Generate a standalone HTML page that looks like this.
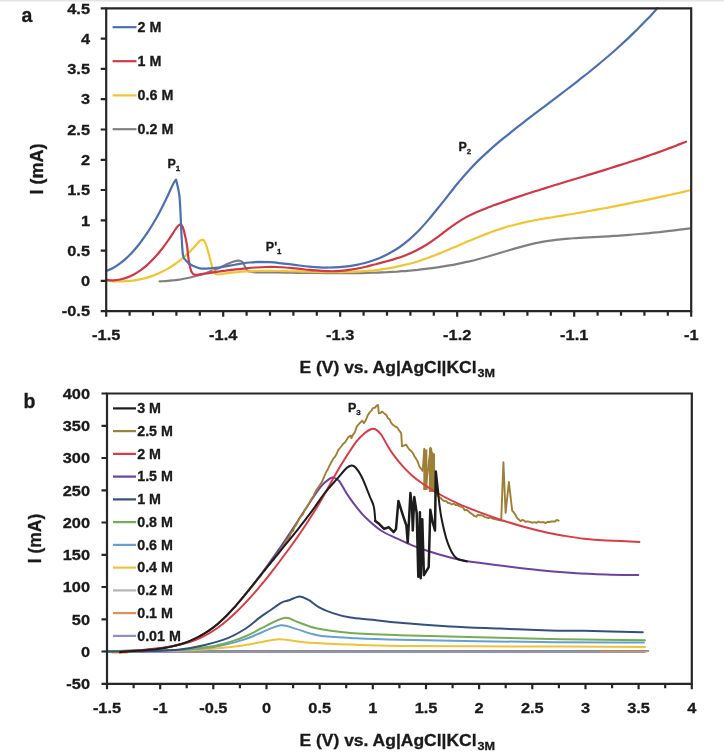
<!DOCTYPE html>
<html><head><meta charset="utf-8"><style>
html,body{margin:0;padding:0;background:#fff;width:724px;height:754px;overflow:hidden}
svg{display:block;will-change:transform}
text{font-family:"Liberation Sans",sans-serif;font-weight:bold;fill:#1a1a1a;stroke:#1a1a1a;stroke-width:0.3px}
.tl{font-size:15.3px;stroke:#1a1a1a;stroke-width:0.3px}
.lg{font-size:14.3px}
.ti{font-size:16px}
.pl{font-size:19.5px}
.an{font-size:12.5px}
.sb{font-size:8px}
.sb2{font-size:11.5px}
</style></head><body>
<svg width="724" height="754" viewBox="0 0 724 754">
<rect x="0" y="0" width="724" height="1.5" fill="#e4e4e4"/>
<text x="21.5" y="21.8" class="pl">a</text>
<text x="23.5" y="408.3" class="pl">b</text>
<text transform="translate(43,194.5) rotate(-90)" class="ti" style="font-size:17.5px" textLength="51" lengthAdjust="spacingAndGlyphs">I (mA)</text>
<text transform="translate(41.2,563.3) rotate(-90)" class="ti" style="font-size:17.5px" textLength="49.5" lengthAdjust="spacingAndGlyphs">I (mA)</text>
<text x="299.5" y="372.5" class="ti" textLength="177" lengthAdjust="spacingAndGlyphs">E (V) vs. Ag|AgCl|KCl</text><text x="477.5" y="376.5" class="sb2" textLength="17.5" lengthAdjust="spacingAndGlyphs">3M</text>
<text x="299.5" y="746" class="ti" textLength="177" lengthAdjust="spacingAndGlyphs">E (V) vs. Ag|AgCl|KCl</text><text x="477.5" y="750" class="sb2" textLength="17.5" lengthAdjust="spacingAndGlyphs">3M</text>
<text x="167.5" y="168.2" class="an">P<tspan class="sb" dy="3">1</tspan></text>
<text x="265.8" y="251.2" class="an">P'<tspan class="sb" dy="3">1</tspan></text>
<text x="458.5" y="151.2" class="an">P<tspan class="sb" dy="3">2</tspan></text>
<text x="348" y="412" class="an">P<tspan class="sb" dy="3">3</tspan></text>
<path d="M159.7 281.4C161.0 281.3 164.8 281.1 167.4 280.9C169.9 280.7 172.5 280.5 175.0 280.2C177.6 279.8 180.1 279.5 182.7 279.0C185.3 278.6 187.8 278.1 190.4 277.5C192.9 276.9 195.5 276.2 198.0 275.5C200.6 274.8 203.1 274.0 205.7 273.2C208.3 272.3 210.8 271.4 213.4 270.4C215.9 269.3 218.5 268.3 221.0 267.1C223.6 265.9 225.8 264.4 228.7 263.4C231.6 262.3 236.0 260.9 238.3 260.7C240.6 260.5 241.3 261.1 242.5 262.1C243.7 263.2 244.3 265.5 245.2 267.0C246.1 268.5 246.2 270.2 248.0 271.1C249.8 272.0 253.2 272.2 256.3 272.4C259.4 272.7 263.0 272.4 266.4 272.4C269.7 272.5 273.1 272.5 276.4 272.5C279.8 272.6 283.2 272.6 286.5 272.6C289.9 272.7 293.2 272.7 296.6 272.8C300.0 272.8 303.3 272.9 306.7 272.9C310.0 273.0 313.4 273.0 316.7 273.0C320.1 273.1 323.5 273.1 326.8 273.1C330.2 273.2 333.5 273.2 336.9 273.2C340.3 273.2 343.6 273.2 347.0 273.2C350.3 273.2 353.7 273.2 357.0 273.1C360.4 273.1 363.8 273.0 367.1 272.9C370.5 272.8 373.8 272.7 377.2 272.6C380.6 272.5 383.9 272.3 387.3 272.2C390.6 272.0 394.0 271.8 397.3 271.6C400.7 271.3 404.1 271.1 407.4 270.8C410.8 270.5 414.1 270.2 417.5 269.9C420.8 269.5 424.2 269.1 427.6 268.7C430.9 268.3 434.3 267.8 437.6 267.3C441.0 266.8 444.4 266.3 447.7 265.7C451.1 265.1 454.4 264.5 457.8 263.8C461.1 263.1 464.5 262.4 467.9 261.7C471.2 260.9 474.6 260.1 477.9 259.2C481.3 258.3 484.7 257.4 488.0 256.5C491.4 255.5 494.7 254.5 498.1 253.5C501.4 252.5 504.8 251.5 508.2 250.5C511.5 249.5 514.9 248.5 518.2 247.6C521.6 246.7 525.0 245.8 528.3 244.9C531.7 244.1 535.0 243.3 538.4 242.7C541.7 242.0 545.1 241.4 548.5 240.9C551.8 240.4 555.2 240.0 558.5 239.6C561.9 239.2 565.2 238.9 568.6 238.6C572.0 238.4 575.3 238.1 578.7 237.9C582.0 237.7 585.4 237.6 588.8 237.4C592.1 237.2 595.5 237.0 598.8 236.8C602.2 236.7 605.5 236.5 608.9 236.3C612.3 236.1 615.6 235.8 619.0 235.6C622.3 235.4 625.7 235.1 629.1 234.8C632.4 234.6 635.8 234.3 639.1 234.0C642.5 233.7 645.8 233.4 649.2 233.1C652.6 232.7 655.9 232.4 659.3 232.1C662.6 231.7 666.0 231.3 669.4 230.9C672.7 230.6 676.1 230.1 679.4 229.7C682.8 229.3 687.8 228.6 689.5 228.4" fill="none" stroke="#808080" stroke-width="2.2" stroke-linejoin="round" stroke-linecap="round"/>
<path d="M106.4 280.9C107.7 281.0 111.6 281.3 114.2 281.3C116.8 281.4 119.4 281.4 122.0 281.3C124.6 281.3 127.2 281.1 129.8 280.9C132.4 280.6 135.0 280.3 137.6 279.8C140.2 279.3 142.8 278.8 145.4 278.1C148.0 277.4 150.6 276.6 153.2 275.6C155.8 274.6 158.4 273.6 161.0 272.3C163.6 271.1 166.2 269.7 168.8 268.1C171.4 266.6 174.0 264.9 176.6 263.0C179.2 261.0 181.8 259.0 184.4 256.7C187.0 254.4 189.6 252.0 192.2 249.3C194.8 246.7 198.1 242.3 200.0 240.7C201.9 239.2 203.0 240.0 203.6 239.9C204.1 240.9 205.6 243.3 206.5 246.0C207.4 248.7 208.4 252.6 209.3 256.0C210.2 259.4 211.3 263.8 212.1 266.5C212.9 269.2 213.3 271.2 214.2 272.5C215.1 273.8 215.4 274.4 217.6 274.5C219.8 274.6 224.3 273.5 227.6 273.1C231.0 272.7 234.3 272.3 237.7 272.1C241.0 271.8 244.4 271.6 247.7 271.4C251.1 271.2 254.4 271.1 257.8 271.0C261.1 270.9 264.5 270.9 267.8 270.9C271.1 270.9 274.5 270.9 277.8 271.0C281.2 271.0 284.5 271.1 287.9 271.2C291.2 271.2 294.6 271.3 297.9 271.4C301.3 271.5 304.6 271.6 308.0 271.7C311.3 271.8 314.7 271.9 318.0 272.0C321.4 272.0 324.7 272.1 328.0 272.1C331.4 272.2 334.7 272.2 338.1 272.2C341.4 272.1 344.8 272.1 348.1 272.0C351.5 271.9 354.8 271.8 358.2 271.6C361.5 271.4 364.9 271.2 368.2 270.9C371.6 270.6 374.9 270.2 378.2 269.8C381.6 269.4 384.9 268.9 388.3 268.3C391.6 267.8 395.0 267.1 398.3 266.4C401.7 265.7 405.0 264.9 408.4 264.0C411.7 263.2 415.1 262.2 418.4 261.2C421.8 260.1 425.1 258.9 428.4 257.7C431.8 256.5 435.1 255.2 438.5 253.9C441.8 252.5 445.2 251.1 448.5 249.7C451.9 248.3 455.2 246.8 458.6 245.4C461.9 244.0 465.3 242.5 468.6 241.1C472.0 239.7 475.3 238.3 478.7 237.0C482.0 235.7 485.3 234.3 488.7 233.1C492.0 231.8 495.4 230.6 498.7 229.5C502.1 228.4 505.4 227.3 508.8 226.3C512.1 225.4 515.5 224.5 518.8 223.7C522.2 222.9 525.5 222.1 528.9 221.4C532.2 220.8 535.5 220.1 538.9 219.5C542.2 218.9 545.6 218.4 548.9 217.8C552.3 217.3 555.6 216.7 559.0 216.2C562.3 215.6 565.7 215.1 569.0 214.5C572.4 214.0 575.7 213.4 579.1 212.8C582.4 212.2 585.7 211.6 589.1 211.0C592.4 210.4 595.8 209.8 599.1 209.2C602.5 208.6 605.8 207.9 609.2 207.3C612.5 206.7 615.9 206.0 619.2 205.4C622.6 204.7 625.9 204.1 629.3 203.4C632.6 202.7 636.0 202.0 639.3 201.4C642.6 200.7 646.0 200.0 649.3 199.3C652.7 198.6 656.0 197.9 659.4 197.1C662.7 196.4 666.1 195.7 669.4 195.0C672.8 194.2 676.1 193.5 679.5 192.7C682.8 192.0 687.8 190.8 689.5 190.5" fill="none" stroke="#f2c430" stroke-width="2.2" stroke-linejoin="round" stroke-linecap="round"/>
<path d="M106.4 279.9C107.5 279.9 111.0 280.3 113.3 280.3C115.5 280.2 117.8 280.0 120.1 279.5C122.4 279.1 124.7 278.5 127.0 277.6C129.3 276.8 131.6 275.7 133.8 274.5C136.1 273.3 138.4 271.8 140.7 270.2C143.0 268.5 145.3 266.7 147.6 264.6C149.8 262.6 152.1 260.3 154.4 257.8C156.7 255.4 159.0 252.7 161.3 249.8C163.6 246.9 165.9 243.8 168.1 240.5C170.4 237.2 173.4 232.4 175.0 230.0C176.6 227.6 177.1 226.9 178.0 226.0C178.9 225.1 179.6 224.2 180.3 224.3C181.1 224.4 181.7 224.7 182.5 226.5C183.3 228.3 184.2 231.8 184.9 234.9C185.6 238.0 186.2 240.5 186.9 244.9C187.6 249.3 188.1 257.0 188.9 261.5C189.7 266.0 190.5 269.7 191.6 271.9C192.7 274.1 193.2 274.6 195.5 274.9C197.8 275.1 202.2 274.0 205.5 273.5C208.8 273.0 212.2 272.6 215.5 272.1C218.9 271.6 222.2 271.1 225.5 270.7C228.9 270.2 232.2 269.8 235.5 269.4C238.9 269.0 242.2 268.6 245.6 268.3C248.9 268.0 252.2 267.7 255.6 267.5C258.9 267.3 262.2 267.1 265.6 267.0C268.9 266.9 272.2 266.9 275.6 267.0C278.9 267.1 282.3 267.2 285.6 267.5C288.9 267.7 292.3 268.1 295.6 268.4C298.9 268.7 302.3 269.1 305.6 269.5C308.9 269.8 312.3 270.2 315.6 270.4C319.0 270.7 322.3 271.0 325.6 271.1C329.0 271.2 332.3 271.3 335.6 271.2C339.0 271.1 342.3 270.8 345.7 270.4C349.0 270.0 352.3 269.5 355.7 268.9C359.0 268.2 362.3 267.5 365.7 266.7C369.0 265.9 372.3 265.0 375.7 264.2C379.0 263.3 382.4 262.4 385.7 261.5C389.0 260.6 392.4 259.7 395.7 258.6C399.0 257.6 402.4 256.5 405.7 255.2C409.1 253.9 412.4 252.5 415.7 250.8C419.1 249.2 422.4 247.3 425.7 245.3C429.1 243.2 432.4 240.8 435.7 238.4C439.1 236.0 442.4 233.3 445.8 230.8C449.1 228.4 452.4 225.8 455.8 223.6C459.1 221.4 462.4 219.3 465.8 217.4C469.1 215.6 472.4 214.0 475.8 212.5C479.1 211.0 482.5 209.7 485.8 208.4C489.1 207.1 492.5 205.9 495.8 204.6C499.1 203.4 502.5 202.2 505.8 201.1C509.2 199.9 512.5 198.7 515.8 197.6C519.2 196.5 522.5 195.4 525.8 194.3C529.2 193.2 532.5 192.1 535.8 191.0C539.2 190.0 542.5 188.9 545.9 187.9C549.2 186.8 552.5 185.8 555.9 184.8C559.2 183.7 562.5 182.7 565.9 181.7C569.2 180.7 572.6 179.7 575.9 178.7C579.2 177.7 582.6 176.7 585.9 175.7C589.2 174.7 592.6 173.7 595.9 172.6C599.2 171.6 602.6 170.6 605.9 169.6C609.3 168.5 612.6 167.5 615.9 166.4C619.3 165.4 622.6 164.3 625.9 163.3C629.3 162.2 632.6 161.1 635.9 160.0C639.3 158.9 642.6 157.8 646.0 156.6C649.3 155.5 652.6 154.3 656.0 153.1C659.3 151.9 662.6 150.7 666.0 149.5C669.3 148.2 672.7 147.0 676.0 145.7C679.3 144.4 684.3 142.3 686.0 141.7" fill="none" stroke="#d23844" stroke-width="2.2" stroke-linejoin="round" stroke-linecap="round"/>
<path d="M106.4 271.0C107.5 270.5 110.8 269.1 113.1 267.9C115.3 266.7 117.5 265.3 119.7 263.6C121.9 262.0 124.2 260.2 126.4 258.1C128.6 256.1 130.8 253.9 133.0 251.4C135.3 249.0 137.5 246.3 139.7 243.5C141.9 240.6 144.1 237.5 146.4 234.2C148.6 230.9 150.8 227.4 153.0 223.7C155.2 220.0 157.5 216.1 159.7 211.9C161.9 207.7 164.1 203.3 166.3 198.7C168.6 194.1 171.4 187.4 173.0 184.2C174.6 181.0 175.6 180.4 176.1 179.6C176.6 182.2 178.6 189.1 179.3 195.0C180.1 200.9 180.2 208.3 180.6 215.0C181.0 221.7 181.1 228.4 181.5 235.0C181.9 241.6 182.3 250.4 182.9 254.5C183.5 258.6 184.1 258.1 185.0 259.5C185.9 260.9 187.0 261.8 188.2 262.8C189.4 263.8 190.4 264.6 192.4 265.5C194.4 266.4 197.1 267.8 200.0 268.3C202.9 268.8 206.6 268.5 209.9 268.3C213.3 268.2 216.6 267.7 219.9 267.3C223.2 266.8 226.5 266.2 229.8 265.6C233.2 265.1 236.5 264.4 239.8 263.9C243.1 263.4 246.4 262.8 249.7 262.5C253.1 262.2 256.4 262.0 259.7 261.9C263.0 261.9 266.3 262.0 269.6 262.2C273.0 262.4 276.3 262.7 279.6 263.1C282.9 263.4 286.2 263.8 289.5 264.2C292.8 264.6 296.2 265.1 299.5 265.5C302.8 265.9 306.1 266.3 309.4 266.6C312.7 266.9 316.1 267.2 319.4 267.3C322.7 267.5 326.0 267.6 329.3 267.5C332.6 267.5 336.0 267.4 339.3 267.1C342.6 266.9 345.9 266.6 349.2 266.1C352.5 265.6 355.8 265.0 359.2 264.3C362.5 263.5 365.8 262.7 369.1 261.7C372.4 260.7 375.7 259.5 379.1 258.2C382.4 256.8 385.7 255.3 389.0 253.5C392.3 251.7 395.6 249.8 399.0 247.5C402.3 245.2 405.6 242.7 408.9 239.9C412.2 237.0 415.5 233.9 418.9 230.5C422.2 227.0 425.5 223.2 428.8 219.4C432.1 215.5 435.4 211.3 438.7 207.2C442.1 203.1 445.4 198.8 448.7 194.6C452.0 190.5 455.3 186.2 458.6 182.3C462.0 178.3 465.3 174.4 468.6 170.8C471.9 167.1 475.2 163.7 478.5 160.4C481.9 157.1 485.2 154.1 488.5 151.1C491.8 148.1 495.1 145.2 498.4 142.4C501.8 139.6 505.1 137.0 508.4 134.3C511.7 131.6 515.0 129.0 518.3 126.4C521.6 123.8 525.0 121.3 528.3 118.7C531.6 116.2 534.9 113.7 538.2 111.2C541.5 108.7 544.9 106.2 548.2 103.6C551.5 101.1 554.8 98.6 558.1 96.1C561.4 93.6 564.8 91.1 568.1 88.5C571.4 86.0 574.7 83.4 578.0 80.8C581.3 78.3 584.6 75.6 588.0 73.0C591.3 70.3 594.6 67.6 597.9 64.9C601.2 62.1 604.5 59.3 607.9 56.5C611.2 53.6 614.5 50.7 617.8 47.7C621.1 44.7 624.4 41.7 627.8 38.6C631.1 35.4 634.4 32.2 637.7 29.0C641.0 25.7 644.3 22.3 647.7 18.8C651.0 15.3 655.9 9.9 657.6 8.1" fill="none" stroke="#4a6fb2" stroke-width="2.2" stroke-linejoin="round" stroke-linecap="round"/>
<path d="M107.0 652.1L645.0 652.1" fill="none" stroke="#8a90d0" stroke-width="1.6" stroke-linejoin="round" stroke-linecap="round"/>
<path d="M112.0 652.3L127.0 652.3" fill="none" stroke="#e39050" stroke-width="2.4" stroke-linejoin="round" stroke-linecap="round"/>
<path d="M107.0 650.9L648.3 650.9" fill="none" stroke="#8c8c8c" stroke-width="1.8" stroke-linejoin="round" stroke-linecap="round"/>
<path d="M600.0 651.6L648.3 651.6" fill="none" stroke="#e39050" stroke-width="1.2" stroke-linejoin="round" stroke-linecap="round"/>
<path d="M107.0 651.6C108.5 651.6 113.1 651.5 116.1 651.4C119.2 651.4 122.2 651.3 125.2 651.3C128.3 651.3 131.3 651.2 134.4 651.2C137.4 651.2 140.5 651.2 143.5 651.1C146.5 651.1 149.6 651.1 152.6 651.0C155.7 651.0 158.7 651.0 161.7 650.9C164.8 650.9 167.8 650.8 170.9 650.8C173.9 650.7 176.9 650.6 180.0 650.5C183.0 650.4 186.1 650.3 189.1 650.2C192.2 650.1 195.2 649.9 198.2 649.8C201.3 649.6 204.3 649.4 207.4 649.2C210.4 649.0 213.4 648.8 216.5 648.5C219.5 648.2 222.6 647.9 225.6 647.6C228.6 647.3 231.7 646.9 234.7 646.5C237.8 646.2 240.8 645.7 243.9 645.3C246.9 644.8 249.9 644.3 253.0 643.8C256.0 643.2 257.6 642.8 262.1 642.0C266.6 641.3 272.4 639.1 279.8 639.2C287.2 639.3 294.5 641.6 306.3 642.5C318.1 643.4 334.9 643.9 350.5 644.5C366.1 645.1 368.4 645.6 400.0 645.9C431.6 646.2 499.2 646.3 540.0 646.5C580.8 646.7 627.5 646.9 645.0 647.0" fill="none" stroke="#f0c23a" stroke-width="2.0" stroke-linejoin="round" stroke-linecap="round"/>
<path d="M107.0 651.6C108.5 651.5 113.1 651.2 116.1 651.1C119.2 651.0 122.2 650.9 125.2 650.8C128.3 650.7 131.3 650.6 134.4 650.6C137.4 650.6 140.5 650.5 143.5 650.5C146.5 650.5 149.6 650.5 152.6 650.5C155.7 650.5 158.7 650.5 161.7 650.4C164.8 650.4 167.8 650.3 170.9 650.3C173.9 650.2 176.9 650.1 180.0 650.0C183.0 649.9 186.1 649.7 189.1 649.5C192.2 649.3 195.2 649.1 198.2 648.8C201.3 648.5 204.3 648.2 207.4 647.8C210.4 647.4 213.4 647.0 216.5 646.4C219.5 645.9 222.6 645.3 225.6 644.6C228.6 644.0 231.7 643.2 234.7 642.4C237.8 641.5 240.8 640.6 243.9 639.6C246.9 638.6 249.9 637.4 253.0 636.2C256.0 635.0 257.4 634.0 262.1 632.2C266.8 630.4 275.4 625.9 280.9 625.3C286.4 624.7 289.1 627.0 295.2 628.6C301.3 630.2 308.1 633.7 317.3 635.2C326.5 636.8 336.7 637.1 350.5 637.9C364.3 638.6 368.4 639.0 400.0 639.7C431.6 640.4 499.4 641.6 540.0 642.1C580.6 642.6 626.6 642.4 643.9 642.5" fill="none" stroke="#64a0d2" stroke-width="2.0" stroke-linejoin="round" stroke-linecap="round"/>
<path d="M107.0 651.6C108.5 651.5 113.1 651.2 116.1 651.1C119.2 650.9 122.2 650.8 125.2 650.7C128.3 650.6 131.3 650.6 134.4 650.5C137.4 650.5 140.5 650.5 143.5 650.4C146.5 650.4 149.6 650.4 152.6 650.4C155.7 650.4 158.7 650.4 161.7 650.3C164.8 650.3 167.8 650.2 170.9 650.1C173.9 650.0 176.9 649.9 180.0 649.8C183.0 649.6 186.1 649.4 189.1 649.2C192.2 648.9 195.2 648.7 198.2 648.3C201.3 647.9 204.3 647.5 207.4 647.0C210.4 646.5 213.4 646.0 216.5 645.4C219.5 644.7 222.6 644.0 225.6 643.2C228.6 642.3 231.7 641.4 234.7 640.4C237.8 639.4 240.8 638.3 243.9 637.0C246.9 635.7 249.9 634.4 253.0 632.8C256.0 631.3 256.9 630.3 262.1 627.8C267.3 625.3 278.3 619.0 284.2 618.0C290.1 617.0 292.0 620.2 297.5 622.0C303.0 623.8 308.5 626.8 317.3 628.6C326.1 630.4 336.7 631.9 350.5 633.0C364.3 634.1 368.4 634.2 400.0 635.2C431.6 636.2 499.2 637.9 540.0 638.8C580.8 639.6 627.5 640.0 645.0 640.3" fill="none" stroke="#76ad52" stroke-width="2.0" stroke-linejoin="round" stroke-linecap="round"/>
<path d="M107.0 651.6C114.2 651.5 137.8 651.4 150.0 651.0C162.2 650.6 171.0 650.4 180.0 649.4C189.0 648.4 195.9 647.1 203.9 645.2C211.9 643.3 220.8 640.9 227.8 638.1C234.8 635.3 240.3 632.0 245.7 628.5C251.1 625.0 255.9 620.4 260.0 617.4C264.1 614.4 266.4 613.0 270.0 610.5C273.6 608.0 278.3 604.3 281.5 602.6C284.7 600.9 286.0 601.3 289.0 600.3C292.0 599.3 296.2 596.5 299.5 596.4C302.8 596.3 305.1 598.0 308.5 599.9C311.9 601.8 315.6 605.4 319.6 607.6C323.7 609.8 327.7 611.4 332.8 613.1C337.9 614.8 343.9 616.5 350.5 617.6C357.1 618.7 364.4 618.9 372.6 619.8C380.9 620.7 387.1 621.7 400.0 622.8C412.9 623.9 433.3 625.4 450.0 626.4C466.7 627.4 483.3 627.9 500.0 628.6C516.7 629.3 536.0 630.0 550.0 630.4C564.0 630.8 568.7 630.5 584.2 630.8C599.7 631.1 633.0 632.0 642.8 632.2" fill="none" stroke="#34507e" stroke-width="2.0" stroke-linejoin="round" stroke-linecap="round"/>
<path d="M120.0 652.1C121.5 651.9 125.9 651.5 128.8 651.3C131.8 651.0 134.7 650.8 137.7 650.6C140.6 650.4 143.6 650.2 146.5 650.0C149.5 649.7 152.4 649.5 155.4 649.1C158.3 648.8 161.3 648.4 164.2 647.9C167.2 647.4 170.1 646.9 173.1 646.2C176.0 645.5 179.0 644.8 181.9 643.8C184.8 642.9 187.8 641.9 190.7 640.6C193.7 639.4 196.6 638.0 199.6 636.4C202.5 634.8 205.5 633.0 208.4 631.0C211.4 628.9 214.3 626.7 217.3 624.2C220.2 621.7 223.2 618.9 226.1 616.0C229.1 613.0 232.0 609.9 235.0 606.6C237.9 603.3 240.9 599.8 243.8 596.2C246.7 592.6 249.7 588.9 252.6 585.1C255.6 581.4 258.5 577.5 261.5 573.5C264.4 569.6 267.4 565.6 270.3 561.5C273.3 557.4 276.2 553.2 279.2 548.9C282.1 544.7 285.1 540.4 288.0 536.0C291.0 531.6 293.9 527.1 296.9 522.5C299.8 518.0 301.7 514.6 305.7 508.7C309.7 502.7 316.6 491.9 320.6 486.9C324.6 481.9 327.7 480.2 329.9 478.6C332.1 477.1 332.1 477.2 333.6 477.6C335.2 478.0 337.0 478.4 339.2 481.0C341.4 483.6 343.8 489.2 346.6 493.4C349.4 497.6 352.8 502.5 355.9 506.4C359.0 510.3 360.8 513.0 365.0 517.0C369.2 521.0 375.6 526.9 380.9 530.5C386.2 534.1 391.5 535.9 396.8 538.4C402.1 540.9 407.5 543.5 412.8 545.6C418.1 547.7 423.4 549.5 428.7 551.2C434.0 552.9 439.3 554.5 444.6 556.0C449.9 557.5 455.4 558.9 460.5 559.9C465.6 560.9 461.8 560.6 475.0 562.3C488.2 564.0 523.6 568.5 540.0 570.3C556.4 572.1 562.1 572.2 573.1 572.9C584.1 573.6 595.4 574.1 606.3 574.5C617.2 574.9 633.0 575.0 638.3 575.1" fill="none" stroke="#6c42a0" stroke-width="2.0" stroke-linejoin="round" stroke-linecap="round"/>
<path d="M120.0 652.3L128.8 651.2L137.6 650.4L146.5 649.7L155.3 648.9L164.1 647.8L172.9 646.2L181.7 644.0L190.6 640.9L199.4 636.7L208.2 631.4L217.0 624.6L225.8 616.4L234.7 607.0L243.5 596.8L245.2 594.3L247.0 591.8L248.8 590.7L250.5 587.4L252.3 586.2L254.1 584.1L255.8 581.6L257.6 578.7L259.4 577.5L261.1 575.4L262.9 572.1L264.6 570.7L266.4 567.7L268.2 565.5L269.9 564.1L271.7 561.6L273.5 560.0L275.2 556.1L277.0 553.9L278.8 552.1L280.5 549.8L282.3 547.9L284.1 544.5L285.8 541.4L287.6 539.1L289.3 537.2L291.1 532.3L292.9 531.1L294.6 527.0L296.4 524.6L298.1 521.0L299.7 518.1L301.4 515.8L303.0 514.1L304.7 509.9L306.3 508.0L308.0 505.0L309.8 502.3L311.6 498.8L313.4 496.2L315.2 492.2L317.0 489.2L318.8 486.5L320.6 484.2L322.5 480.7L324.4 476.2L326.2 472.0L328.1 468.7L330.0 464.6L331.6 461.7L333.3 458.6L334.9 456.9L336.6 454.0L338.2 450.2L339.9 448.0L341.6 446.0L343.2 443.8L344.9 442.4L346.5 439.9L348.2 437.3L350.7 435.6L351.5 438.1L353.1 434.3L354.8 432.5L356.5 427.3L358.1 424.8L360.2 422.6L362.3 420.7L363.9 423.2L365.8 420.2L367.8 415.2L369.7 412.4L371.4 410.7L373.0 408.1L374.7 407.8L376.4 405.8L378.0 404.9L378.8 413.2L380.5 413.0L382.2 411.6L384.2 413.4L386.3 414.9L387.9 418.2L389.6 419.4L391.2 422.8L392.9 424.8L395.0 426.3L397.1 427.3L399.1 430.4L401.2 433.1L402.0 446.4L404.1 445.5L406.2 444.7L407.9 447.5L409.5 449.8L411.1 450.9L412.8 453.0L414.5 456.3L416.1 458.8L417.8 461.7L419.4 466.5L422.7 470.9L424.3 448.8L426.0 484.2L428.0 470.0L430.5 447.7L431.5 480.0L432.7 453.3L434.9 488.6L437.1 495.2L438.9 496.9L440.8 498.1L442.6 500.2L444.4 501.1L446.3 501.2L448.1 503.0L450.0 503.3L451.8 504.5L453.6 503.6L455.5 505.1L457.4 505.0L459.2 506.3L461.0 506.6L462.9 507.5L464.7 510.2L466.5 509.9L468.4 511.2L470.2 512.9L472.4 514.3L474.7 516.2L476.4 516.7L478.0 514.7L479.6 515.3L481.3 515.1L483.1 515.8L485.0 517.1L486.8 517.5L488.6 518.2L490.5 517.4L492.3 518.5L501.2 520.7L503.4 462.1L505.6 512.9L508.9 482.0L512.2 510.7L513.9 512.7L515.5 514.8L517.2 518.2L518.9 519.6L520.5 521.2L522.2 519.9L523.9 520.5L525.5 521.8L527.3 521.4L529.2 521.6L531.0 522.3L532.8 522.7L534.7 522.2L536.5 522.9L538.4 521.6L540.2 522.4L542.0 522.1L543.9 522.3L545.8 523.0L547.6 521.8L549.4 522.0L551.3 521.5L553.1 521.5L554.9 521.5L556.8 519.9L558.6 520.7" fill="none" stroke="#9e7f36" stroke-width="1.9" stroke-linejoin="round" stroke-linecap="round"/>
<path d="M423.2 490L423.6 449.5L427.3 449.5L427.6 490Z M428.8 492L429.2 448L432 448L432.8 453.5L435 453.5L435.2 492Z" fill="#9e7f36"/>
<path d="M120.0 652.4C121.5 652.2 125.9 651.6 128.9 651.3C131.8 650.9 134.8 650.7 137.8 650.4C140.7 650.1 143.7 649.8 146.7 649.5C149.6 649.3 152.6 649.0 155.6 648.6C158.5 648.3 161.5 648.0 164.4 647.5C167.4 647.1 170.4 646.6 173.3 646.1C176.3 645.5 179.2 644.9 182.2 644.1C185.2 643.3 188.1 642.5 191.1 641.5C194.1 640.5 197.0 639.3 200.0 638.0C203.0 636.7 205.9 635.2 208.9 633.5C211.8 631.7 214.8 629.8 217.8 627.7C220.7 625.6 223.7 623.2 226.7 620.7C229.6 618.3 232.6 615.6 235.5 612.8C238.5 610.0 241.5 607.0 244.4 603.9C247.4 600.8 250.4 597.5 253.3 594.2C256.3 590.8 259.2 587.3 262.2 583.7C265.2 580.1 268.1 576.4 271.1 572.6C274.0 568.9 277.0 565.0 280.0 561.0C282.9 557.1 285.9 553.1 288.9 549.0C291.8 545.0 294.8 540.8 297.8 536.6C300.7 532.3 303.7 528.0 306.6 523.5C309.6 519.0 312.6 514.4 315.5 509.6C318.5 504.8 321.5 499.8 324.4 494.6C327.4 489.4 329.9 484.2 333.3 478.3C336.7 472.3 341.0 464.9 344.9 458.8C348.8 452.7 353.2 445.7 356.5 441.4C359.8 437.1 362.3 435.2 364.8 433.1C367.3 431.0 369.5 429.6 371.4 429.0C373.3 428.4 374.8 428.8 376.4 429.8C378.0 430.8 379.4 432.0 381.3 434.8C383.2 437.6 385.8 442.8 388.0 446.4C390.2 450.0 392.1 453.0 394.6 456.3C397.1 459.6 399.9 463.0 402.9 466.3C405.9 469.6 409.5 473.3 412.8 476.2C416.1 479.1 418.8 480.9 422.8 483.7C426.9 486.5 431.0 489.6 437.1 493.0C443.2 496.4 451.8 500.8 459.2 504.1C466.6 507.4 473.9 510.1 481.3 512.9C488.7 515.7 496.0 518.3 503.4 520.7C510.8 523.1 518.1 525.3 525.5 527.3C532.9 529.3 541.5 531.4 547.6 532.8C553.7 534.1 556.0 534.4 562.1 535.4C568.2 536.4 576.8 537.9 584.2 538.7C591.6 539.5 597.1 539.9 606.3 540.4C615.5 540.9 633.9 541.7 639.4 542.0" fill="none" stroke="#dc3a44" stroke-width="2.0" stroke-linejoin="round" stroke-linecap="round"/>
<path d="M120.0 652.0C121.5 651.9 125.9 651.5 128.9 651.3C131.8 651.1 134.8 650.9 137.8 650.7C140.7 650.5 143.7 650.3 146.6 650.1C149.6 649.8 152.6 649.5 155.5 649.2C158.5 648.8 161.5 648.4 164.4 647.9C167.4 647.4 170.3 646.8 173.3 646.1C176.3 645.4 179.2 644.6 182.2 643.7C185.1 642.7 188.1 641.6 191.1 640.3C194.0 639.1 197.0 637.7 199.9 636.0C202.9 634.4 205.9 632.6 208.8 630.6C211.8 628.6 214.7 626.4 217.7 623.9C220.7 621.4 223.6 618.6 226.6 615.7C229.6 612.7 232.5 609.4 235.5 606.1C238.4 602.7 241.4 599.1 244.4 595.6C247.3 592.0 250.3 588.3 253.2 584.6C256.2 580.9 259.2 577.2 262.1 573.5C265.1 569.8 268.0 566.1 271.0 562.4C274.0 558.7 276.9 555.1 279.9 551.5C282.8 547.9 285.8 544.3 288.8 540.7C291.7 537.0 294.7 533.4 297.7 529.6C300.6 525.9 303.6 522.1 306.5 518.2C309.5 514.3 312.5 510.4 315.4 506.2C318.4 502.1 320.7 498.1 324.3 493.5C327.9 488.9 333.6 482.8 337.3 478.6C341.0 474.4 344.2 470.2 346.6 468.0C349.0 465.8 350.0 465.5 351.5 465.4C353.0 465.3 354.0 465.7 355.6 467.5C357.2 469.3 359.6 472.8 361.4 476.2C363.2 479.6 365.0 484.3 366.4 487.8C367.8 491.3 368.8 493.9 370.0 497.0C371.2 500.1 372.9 502.6 373.8 506.6C374.7 510.6 375.1 518.5 375.3 520.9" fill="none" stroke="#1c1c1c" stroke-width="2.0" stroke-linejoin="round" stroke-linecap="round"/>
<path d="M375.3 520.9L379.3 524.1L384.1 528.9L388.9 527.3L393.7 532.1L396.0 528.9L398.4 501.0L403.2 516.2L406.4 525.7L407.7 542.4L408.8 524.1L410.4 493.1L412.0 506.6L412.8 530.5L414.3 497.1L416.7 513.0L418.3 576.7L419.9 512.2L420.7 578.2L422.3 519.3L423.9 575.1L428.7 567.1L430.3 509.8L432.7 522.5L435.0 530.5L435.8 471.6L438.2 493.9" fill="none" stroke="#1c1c1c" stroke-width="2.5" stroke-linejoin="round" stroke-linecap="round"/>
<path d="M438.2 493.9C438.7 497.9 439.8 509.6 441.4 517.8C443.0 526.0 445.4 536.6 447.8 543.2C450.2 549.8 452.5 554.6 455.7 557.6C458.9 560.6 465.0 560.9 466.9 561.5" fill="none" stroke="#1c1c1c" stroke-width="2.0" stroke-linejoin="round" stroke-linecap="round"/>
<path d="M106.2 8.3H691.2V311.2H106.2Z" fill="none" stroke="#262626" stroke-width="2.2"/><path d="M100.7 8.3H106.2M100.7 38.6H106.2M100.7 68.9H106.2M100.7 99.2H106.2M100.7 129.5H106.2M100.7 159.8H106.2M100.7 190.0H106.2M100.7 220.3H106.2M100.7 250.6H106.2M100.7 280.9H106.2M100.7 311.2H106.2M106.2 311.2V316.7M223.2 311.2V316.7M340.2 311.2V316.7M457.2 311.2V316.7M574.2 311.2V316.7M691.2 311.2V316.7M129.6 311.2V315.7M153.0 311.2V315.7M176.4 311.2V315.7M199.8 311.2V315.7M246.6 311.2V315.7M270.0 311.2V315.7M293.4 311.2V315.7M316.8 311.2V315.7M363.6 311.2V315.7M387.0 311.2V315.7M410.4 311.2V315.7M433.8 311.2V315.7M480.6 311.2V315.7M504.0 311.2V315.7M527.4 311.2V315.7M550.8 311.2V315.7M597.6 311.2V315.7M621.0 311.2V315.7M644.4 311.2V315.7M667.8 311.2V315.7" fill="none" stroke="#262626" stroke-width="2.2"/><text transform="translate(90,13.5) scale(1.07,1)" text-anchor="end" class="tl">4.5</text><text transform="translate(90,43.8) scale(1.07,1)" text-anchor="end" class="tl">4</text><text transform="translate(90,74.1) scale(1.07,1)" text-anchor="end" class="tl">3.5</text><text transform="translate(90,104.4) scale(1.07,1)" text-anchor="end" class="tl">3</text><text transform="translate(90,134.7) scale(1.07,1)" text-anchor="end" class="tl">2.5</text><text transform="translate(90,164.9) scale(1.07,1)" text-anchor="end" class="tl">2</text><text transform="translate(90,195.2) scale(1.07,1)" text-anchor="end" class="tl">1.5</text><text transform="translate(90,225.5) scale(1.07,1)" text-anchor="end" class="tl">1</text><text transform="translate(90,255.8) scale(1.07,1)" text-anchor="end" class="tl">0.5</text><text transform="translate(90,286.1) scale(1.07,1)" text-anchor="end" class="tl">0</text><text transform="translate(90,316.4) scale(1.07,1)" text-anchor="end" class="tl">-0.5</text><text transform="translate(106.2,340.4) scale(1.07,1)" text-anchor="middle" class="tl">-1.5</text><text transform="translate(223.2,340.4) scale(1.07,1)" text-anchor="middle" class="tl">-1.4</text><text transform="translate(340.2,340.4) scale(1.07,1)" text-anchor="middle" class="tl">-1.3</text><text transform="translate(457.2,340.4) scale(1.07,1)" text-anchor="middle" class="tl">-1.2</text><text transform="translate(574.2,340.4) scale(1.07,1)" text-anchor="middle" class="tl">-1.1</text><text transform="translate(691.2,340.4) scale(1.07,1)" text-anchor="middle" class="tl">-1</text><path d="M107.0 393.5H691.8V683.8H107.0Z" fill="none" stroke="#262626" stroke-width="2.2"/><path d="M101.5 393.5H107.0M101.5 425.8H107.0M101.5 458.0H107.0M101.5 490.3H107.0M101.5 522.5H107.0M101.5 554.8H107.0M101.5 587.0H107.0M101.5 619.3H107.0M101.5 651.5H107.0M101.5 683.8H107.0M107.0 683.8V689.3M160.2 683.8V689.3M213.3 683.8V689.3M266.5 683.8V689.3M319.7 683.8V689.3M372.8 683.8V689.3M426.0 683.8V689.3M479.1 683.8V689.3M532.3 683.8V689.3M585.5 683.8V689.3M638.6 683.8V689.3M691.8 683.8V689.3M133.6 683.8V688.3M186.7 683.8V688.3M239.9 683.8V688.3M293.1 683.8V688.3M346.2 683.8V688.3M399.4 683.8V688.3M452.6 683.8V688.3M505.7 683.8V688.3M558.9 683.8V688.3M612.1 683.8V688.3M665.2 683.8V688.3" fill="none" stroke="#262626" stroke-width="2.2"/><text transform="translate(90,398.7) scale(1.07,1)" text-anchor="end" class="tl">400</text><text transform="translate(90,431.0) scale(1.07,1)" text-anchor="end" class="tl">350</text><text transform="translate(90,463.2) scale(1.07,1)" text-anchor="end" class="tl">300</text><text transform="translate(90,495.5) scale(1.07,1)" text-anchor="end" class="tl">250</text><text transform="translate(90,527.7) scale(1.07,1)" text-anchor="end" class="tl">200</text><text transform="translate(90,560.0) scale(1.07,1)" text-anchor="end" class="tl">150</text><text transform="translate(90,592.2) scale(1.07,1)" text-anchor="end" class="tl">100</text><text transform="translate(90,624.5) scale(1.07,1)" text-anchor="end" class="tl">50</text><text transform="translate(90,656.7) scale(1.07,1)" text-anchor="end" class="tl">0</text><text transform="translate(90,689.0) scale(1.07,1)" text-anchor="end" class="tl">-50</text><text transform="translate(107.0,713.0) scale(1.07,1)" text-anchor="middle" class="tl">-1.5</text><text transform="translate(160.2,713.0) scale(1.07,1)" text-anchor="middle" class="tl">-1</text><text transform="translate(213.3,713.0) scale(1.07,1)" text-anchor="middle" class="tl">-0.5</text><text transform="translate(266.5,713.0) scale(1.07,1)" text-anchor="middle" class="tl">0</text><text transform="translate(319.7,713.0) scale(1.07,1)" text-anchor="middle" class="tl">0.5</text><text transform="translate(372.8,713.0) scale(1.07,1)" text-anchor="middle" class="tl">1</text><text transform="translate(426.0,713.0) scale(1.07,1)" text-anchor="middle" class="tl">1.5</text><text transform="translate(479.1,713.0) scale(1.07,1)" text-anchor="middle" class="tl">2</text><text transform="translate(532.3,713.0) scale(1.07,1)" text-anchor="middle" class="tl">2.5</text><text transform="translate(585.5,713.0) scale(1.07,1)" text-anchor="middle" class="tl">3</text><text transform="translate(638.6,713.0) scale(1.07,1)" text-anchor="middle" class="tl">3.5</text><text transform="translate(691.8,713.0) scale(1.07,1)" text-anchor="middle" class="tl">4</text><path d="M112.6 27.2H136.5" stroke="#4a6fb2" stroke-width="2.2"/><text x="137.6" y="31.8" class="lg">2 M</text><path d="M112.6 61.2H136.5" stroke="#d23844" stroke-width="2.2"/><text x="137.6" y="65.8" class="lg">1 M</text><path d="M112.6 95.4H136.5" stroke="#f2c430" stroke-width="2.2"/><text x="137.6" y="100.0" class="lg">0.6 M</text><path d="M112.6 129.2H136.5" stroke="#808080" stroke-width="2.2"/><text x="137.6" y="133.8" class="lg">0.2 M</text><path d="M113 408.4H136" stroke="#1c1c1c" stroke-width="2.2"/><text x="137.2" y="413.0" class="lg">3 M</text><path d="M113 431.1H136" stroke="#9e7f36" stroke-width="2.2"/><text x="137.2" y="435.8" class="lg">2.5 M</text><path d="M113 453.9H136" stroke="#dc3a44" stroke-width="2.2"/><text x="137.2" y="458.5" class="lg">2 M</text><path d="M113 476.6H136" stroke="#6c42a0" stroke-width="2.2"/><text x="137.2" y="481.2" class="lg">1.5 M</text><path d="M113 499.4H136" stroke="#34507e" stroke-width="2.2"/><text x="137.2" y="504.0" class="lg">1 M</text><path d="M113 522.1H136" stroke="#76ad52" stroke-width="2.2"/><text x="137.2" y="526.8" class="lg">0.8 M</text><path d="M113 544.9H136" stroke="#64a0d2" stroke-width="2.2"/><text x="137.2" y="549.5" class="lg">0.6 M</text><path d="M113 567.6H136" stroke="#f0c23a" stroke-width="2.2"/><text x="137.2" y="572.2" class="lg">0.4 M</text><path d="M113 590.4H136" stroke="#b4b4b4" stroke-width="2.2"/><text x="137.2" y="595.0" class="lg">0.2 M</text><path d="M113 613.1H136" stroke="#e39050" stroke-width="2.2"/><text x="137.2" y="617.8" class="lg">0.1 M</text><path d="M113 635.9H136" stroke="#8a90d0" stroke-width="2.2"/><text x="137.2" y="640.5" class="lg">0.01 M</text>
</svg>
</body></html>
